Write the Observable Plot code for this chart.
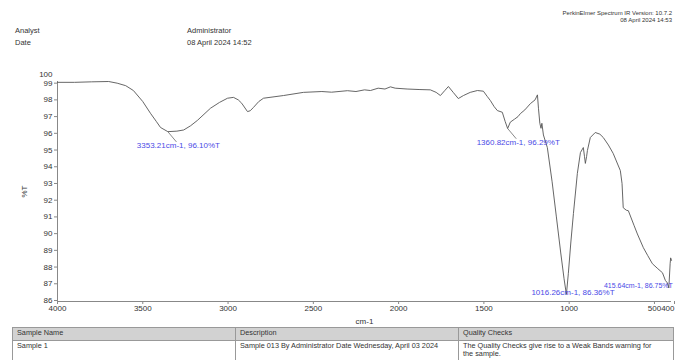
<!DOCTYPE html>
<html><head><meta charset="utf-8">
<script src="https://cdn.jsdelivr.net/npm/d3@7"></script>
<script src="https://cdn.jsdelivr.net/npm/@observablehq/plot@0.6"></script>
<style>
body{margin:0;width:675px;height:360px;overflow:hidden;background:#fff;font-family:"Liberation Sans",Arial,sans-serif;position:relative}
.t{position:absolute;font-size:7.5px;color:#333;white-space:nowrap;line-height:1}
.r{right:3px;text-align:right;font-size:6px}
#chart{position:absolute;left:0;top:0}
table{position:absolute;left:12px;top:327px;border-collapse:collapse;font-size:7.3px;width:661px;table-layout:fixed;color:#333}
th,td{border:1px solid #999;text-align:left;vertical-align:top;padding:1px 4px;font-weight:normal;line-height:8px}
td.q{padding-right:18px}
th{background:#d2d2d2;height:10px}
td{height:18px}
</style></head>
<body>
<div class="t" style="left:15px;top:27px">Analyst</div>
<div class="t" style="left:15px;top:39px">Date</div>
<div class="t" style="left:187px;top:27px">Administrator</div>
<div class="t" style="left:187px;top:39px">08 April 2024 14:52</div>
<div class="t r" style="top:10px">PerkinElmer Spectrum IR Version: 10.7.2</div>
<div class="t r" style="top:17px">08 April 2024 14:53</div>
<div id="chart"></div>
<table>
<colgroup><col style="width:223px"><col style="width:223px"><col style="width:215px"></colgroup>
<tr><th>Sample Name</th><th>Description</th><th>Quality Checks</th></tr>
<tr><td>Sample 1</td><td>Sample 013 By Administrator Date Wednesday, April 03 2024</td><td class="q">The Quality Checks give rise to a Weak Bands warning for the sample.</td></tr>
</table>
<script>
const wn = [4000,3900,3800,3700,3650,3600,3555,3500,3455,3420,3396,3353.21,3300,3260,3220,3180,3103,3050,3003,2968,2940,2920,2886,2870,2851,2820,2792,2675,2558,2450,2393,2300,2250,2200,2165,2120,2080,2048,2020,1950,1880,1814,1780,1755,1730,1708,1680,1650,1620,1580,1538,1503,1480,1462,1440,1421,1392,1375,1360.82,1345,1320,1300,1286,1260,1227,1200,1186,1180,1172,1165,1160,1151,1128,1100,1075,1050,1030,1016.26,1005,990,975,952,934,917,910,905,898,893,876,847,820,800,770,742,700,690,683,665,653,620,600,565,540,512,480,453,436,424,415.64,408,405,400];
const tr = [99.05,99.05,99.08,99.1,99.0,98.85,98.56,97.9,97.2,96.7,96.35,96.10,96.13,96.2,96.45,96.77,97.5,97.85,98.1,98.15,98.0,97.8,97.3,97.35,97.55,97.9,98.1,98.26,98.45,98.5,98.46,98.55,98.5,98.6,98.56,98.7,98.65,98.78,98.7,98.65,98.62,98.6,98.45,98.26,98.55,98.8,98.45,98.08,98.26,98.45,98.56,98.52,98.2,97.96,97.6,97.36,97.26,96.7,96.29,96.67,96.85,97.0,97.18,97.4,97.78,98.0,98.3,97.5,96.6,96.3,96.6,95.9,95.15,93.1,91.0,88.9,87.3,86.36,87.6,89.5,91.2,93.6,94.85,95.15,94.6,94.2,94.6,94.97,95.75,96.05,95.95,95.75,95.3,94.8,93.77,93.0,91.55,91.4,91.37,90.5,89.98,89.16,88.7,88.2,87.9,87.66,87.2,87.05,86.75,88.2,88.55,88.4];
const peakWn = [3353.21,1360.82,1016.26,415.64];
const peakT = [96.10,96.29,86.36,86.75];
const peakText = ["3353.21cm-1, 96.10%T","1360.82cm-1, 96.29%T","1016.26cm-1, 86.36%T","415.64cm-1, 86.75%T"];
const xTicks = [4000,3500,3000,2500,2000,1500,1000,500];
const xTickEnd = [400];
const yTicks = [86,87,88,89,90,91,92,93,94,95,96,97,98,99];
const yTop = {label:"100", value:99.55};

const spectrum = wn.map((w,i)=>({wn:w,t:tr[i]}));
const peaks = peakWn.map((w,i)=>({wn:w,t:peakT[i],text:peakText[i],i}));
const yDomain = [85.94, 99.1];
const line = {draw(ctx,l){ctx.moveTo(0,0);ctx.lineTo(0,-l);}};

const chart = Plot.plot({
  width:675, height:325,
  marginTop:81, marginBottom:24, marginLeft:57, marginRight:4,
  style:{fontFamily:"Liberation Sans, Arial, sans-serif", color:"#333", overflow:"visible"},
  x:{domain:[4000,400]},
  y:{domain:yDomain},
  marks:[
    Plot.axisX({ticks:xTicks, tickFormat:d=>String(d), tickSize:3, tickPadding:1, fontSize:8, stroke:"#888", label:"cm-1", labelAnchor:"center", labelOffset:22, labelArrow:"none"}),
    Plot.axisX({ticks:xTickEnd, tickFormat:d=>String(d), tickSize:3, tickPadding:1, fontSize:8, stroke:"#888", textAnchor:"end", dx:3, label:null}),
    Plot.axisY({ticks:yTicks, tickSize:3, tickPadding:2, fontSize:8, stroke:"#888", label:"%T", labelAnchor:"center", labelOffset:36, labelArrow:"none"}),
    Plot.text([yTop], {x:4000, y:"value", text:"label", textAnchor:"end", dx:-5, fontSize:8, fill:"#333"}),
    Plot.ruleX([4000], {stroke:"#888"}),
    Plot.ruleY([yDomain[0]], {stroke:"#888"}),
    Plot.line(spectrum, {x:"wn", y:"t", stroke:"#555", strokeWidth:0.9}),
    Plot.vector(peaks.filter(p=>p.i<2), {x:"wn", y:"t", length:13, rotate:140, anchor:"start", shape:line, stroke:"#777", strokeWidth:0.8}),
    Plot.text(peaks.filter(p=>p.i<2), {x:"wn", y:"t", text:"text", textAnchor:"start", dx:-31, dy:14, fill:"#4a4ae6", fontSize:8}),
    Plot.text(peaks.filter(p=>p.i==2), {x:"wn", y:"t", text:"text", textAnchor:"start", dx:-35, dy:-2, fill:"#4a4ae6", fontSize:8}),
    Plot.text(peaks.filter(p=>p.i==3), {x:"wn", y:"t", text:"text", textAnchor:"end", dx:4, dy:-2, fill:"#4a4ae6", fontSize:7})
  ]
});
document.getElementById("chart").appendChild(chart);
</script>
</body></html>
